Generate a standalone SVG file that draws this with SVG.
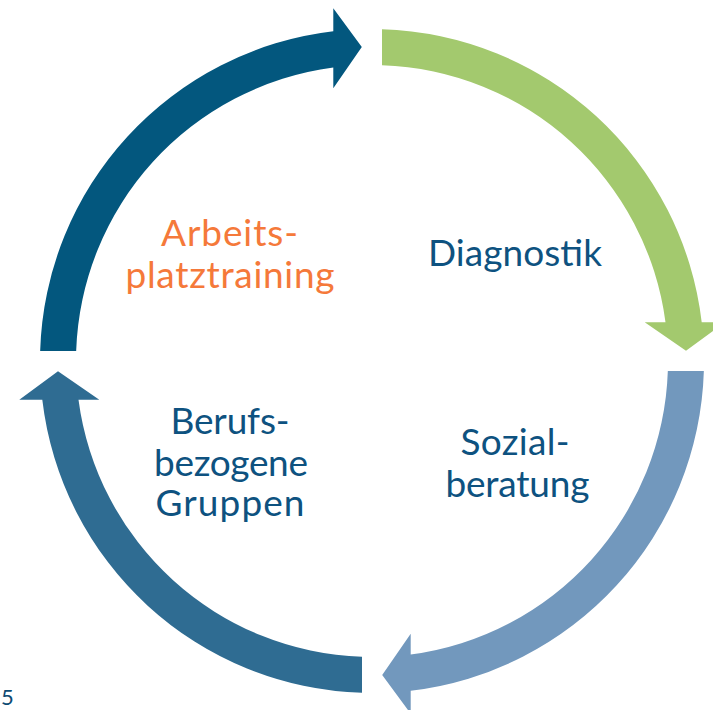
<svg xmlns="http://www.w3.org/2000/svg" xmlns:xlink="http://www.w3.org/1999/xlink" width="713" height="710" viewBox="0 0 713 710">
  <style>
    .lbl { font-family: Lato, "Open Sans", "Liberation Sans", sans-serif; font-size: 37px; text-anchor: middle; }
    .blue { fill: #0E5280; }
    .orange { fill: #F5793A; }
    .pageno { font-family: Lato, "Liberation Sans", sans-serif; font-size: 22px; fill: #0E4B73; }
  </style>
  <defs>
    <!-- One quarter of the cycle ring: band from the left side up to the top, ending in an arrowhead.
         Ring centre (372,361), outer radius 332, inner radius 296. -->
    <path id="quarterArrow" d="M 40.15,351 A 332 332 0 0 1 333.3,31.3 L 333.3,8.3 L 361.8,47 L 333.3,88.3 L 333.3,67.5 A 296 296 0 0 0 76.17,351 Z"/>
  </defs>

  <g id="connectors">
    <use xlink:href="#quarterArrow" fill="#03577E"/>
    <use xlink:href="#quarterArrow" fill="#A3C96E" transform="rotate(90 372 361)"/>
    <use xlink:href="#quarterArrow" fill="#7298BD" transform="rotate(180 372 361)"/>
    <use xlink:href="#quarterArrow" fill="#2F6C92" transform="rotate(270 372 361)"/>
  </g>

  <g id="node-arbeitsplatztraining">
    <text class="lbl orange" x="229.5" y="246" textLength="137" lengthAdjust="spacing">Arbeits-</text>
    <text class="lbl orange" x="230" y="288" textLength="209" lengthAdjust="spacing">platztraining</text>
  </g>

  <g id="node-diagnostik">
    <text class="lbl blue" x="515" y="266" textLength="174" lengthAdjust="spacing">Diagnostik</text>
  </g>

  <g id="node-sozialberatung">
    <text class="lbl blue" x="515" y="455" textLength="109" lengthAdjust="spacing">Sozial-</text>
    <text class="lbl blue" x="517.5" y="497" textLength="144" lengthAdjust="spacing">beratung</text>
  </g>

  <g id="node-berufsbezogene-gruppen">
    <text class="lbl blue" x="230" y="433.5" textLength="119" lengthAdjust="spacing">Berufs-</text>
    <text class="lbl blue" x="231" y="476" textLength="154" lengthAdjust="spacing">bezogene</text>
    <text class="lbl blue" x="230" y="516" textLength="149" lengthAdjust="spacing">Gruppen</text>
  </g>

  <text class="pageno" x="1" y="705">5</text>
</svg>
